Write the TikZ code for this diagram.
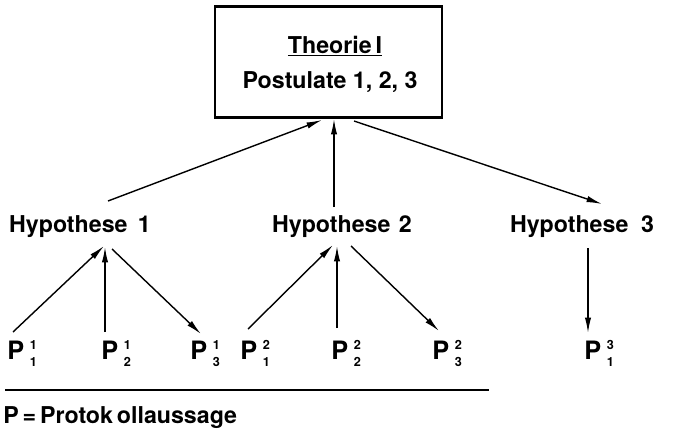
\documentclass[tikz,border=0pt]{standalone}
\usepackage{fontspec}
\setmainfont{TeX Gyre Heros}
\usetikzlibrary{arrows.meta}
\usetikzlibrary{calc}
\tikzset{
	% node styles: theory box, hypotheses and protocol statements
	theory node/.style={draw,line width=1.6pt,minimum width=5.68cm,minimum height=2.78cm},
	text node/.style={inner sep=0pt,anchor=base},
	prot node/.style={inner sep=0pt,anchor=base west},
	% arrows between the levels
	link/.style={line width=1pt,-{Latex[length=11pt,width=4.5pt]}}
}
% P with stacked upper and lower index
\newcommand{\prot}[2]{{\fontsize{18}{20}\selectfont P}\hspace{4pt}\raisebox{-5.5pt}{\shortstack[c]{\fontsize{9}{9}\selectfont #1\\[3pt]\fontsize{9}{9}\selectfont #2}}}

\begin{document}
\begin{tikzpicture}[x=0.025cm,y=-0.025cm,font=\fontsize{16.5}{20}\selectfont\bfseries]
\useasboundingbox (0,0) rectangle (673,434);

% theory (top)
\node(T)[theory node] at (328.5,62) {};
\node(T1)[text node] at (335,53) {\underline{Theorie\,{\rmfamily I}}};
\node(T2)[text node] at (330,88) {Postulate 1, 2, 3};

% hypotheses
\node(H1)[text node] at (80,232) {Hypothese\, 1};
\node(H2)[text node] at (342,232) {Hypothese\hspace{6pt}2};
\node(H3)[text node] at (582,232) {Hypothese\hspace{9pt}3};

% protocol statements
\node(P11)[prot node] at (7,359) {\prot{1}{1}};
\node(P12)[prot node] at (101,359) {\prot{1}{2}};
\node(P13)[prot node] at (190,359) {\prot{1}{3}};
\node(P21)[prot node] at (240,359) {\prot{2}{1}};
\node(P22)[prot node] at (331,359) {\prot{2}{2}};
\node(P23)[prot node] at (432,359) {\prot{2}{3}};
\node(P31)[prot node] at (584,359) {\prot{3}{1}};

% free ends of the connectors
\coordinate(t1) at (322,120);
\coordinate(t2) at (334,119);
\coordinate(t3) at (354,121);
\coordinate(h1a) at (108,201);
\coordinate(h2a) at (334,207);
\coordinate(h3a) at (602,204);
\coordinate(h1) at (104,246);
\coordinate(h1b) at (112,249);
\coordinate(h2) at (333,245);
\coordinate(h2b) at (351,246);
\coordinate(h3) at (588,248);
\coordinate(p11) at (13,332);
\coordinate(p12) at (105,332);
\coordinate(p13) at (201,334);
\coordinate(p21) at (248,329);
\coordinate(p22) at (337,328);
\coordinate(p23) at (439,331);
\coordinate(p31) at (588,333);

% hypotheses and theory
\draw[link] (h1a) -- (t1);
\draw[link] (h2a) -- (t2);
\draw[link] (t3) -- (h3a);

% protocol statements and hypotheses
\draw[link] (p11) -- (h1);
\draw[link] (p12) -- (105,247);
\draw[link] (h1b) -- (p13);
\draw[link] (p21) -- (h2);
\draw[link] (p22) -- (337,246);
\draw[link] (h2b) -- (p23);
\draw[link] (h3) -- (p31);

% legend
\draw[line width=1pt] (5,390) -- (489,390);
\node(L)[anchor=base west,inner sep=0pt] at (3,423) {P\,=\,Protok\,ollaussage};

\end{tikzpicture}
\end{document}
